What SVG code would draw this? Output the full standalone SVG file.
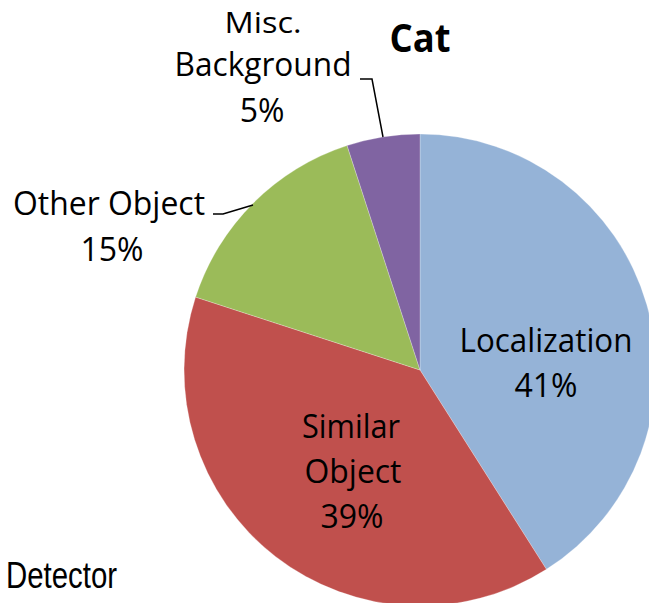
<svg xmlns="http://www.w3.org/2000/svg" width="649" height="603" viewBox="0 0 649 603">
<style>
.lbl{font-family:"Open Sans","Noto Sans",sans-serif;font-size:32px;fill:#000;text-anchor:middle}
.slice{stroke:#ffffff;stroke-width:0.5;stroke-opacity:0.5}
.lead{fill:none;stroke:#000;stroke-width:1.5}
</style>
<rect width="649" height="603" fill="#ffffff"/>
<g id="slice-localization"><path class="slice" fill="#95B3D7" d="M420,370 L420,134 A236,236 0 0 1 546.4,569.3 Z"/></g>
<g id="slice-similar"><path class="slice" fill="#C0504D" d="M420,370 L546.4,569.3 A236,236 0 0 1 195.6,297.1 Z"/></g>
<g id="slice-other"><path class="slice" fill="#9BBB59" d="M420,370 L195.6,297.1 A236,236 0 0 1 347.1,145.6 Z"/></g>
<g id="slice-misc"><path class="slice" fill="#8064A2" d="M420,370 L347.1,145.6 A236,236 0 0 1 420,134 Z"/></g>
<g id="connectors">
<polyline class="lead" points="360,79 372,79 383,137"/>
<polyline class="lead" points="213,214 223,214 253,205"/>
</g>
<g id="label-title"><text x="420" y="52" font-family="'Open Sans','Noto Sans',sans-serif" font-weight="bold" font-size="40" text-anchor="middle" textLength="61" lengthAdjust="spacingAndGlyphs">Cat</text></g>
<g id="label-misc">
<text class="lbl" x="263" y="33" font-size="30" style="font-size:30px" textLength="77" lengthAdjust="spacingAndGlyphs">Misc.</text>
<text class="lbl" x="263" y="76" textLength="177" lengthAdjust="spacingAndGlyphs">Background</text>
<text class="lbl" x="262" y="122">5%</text>
</g>
<g id="label-other">
<text class="lbl" x="109" y="215" textLength="192" lengthAdjust="spacingAndGlyphs">Other Object</text>
<text class="lbl" x="112" y="261">15%</text>
</g>
<g id="label-localization">
<text class="lbl" x="546" y="352" textLength="173" lengthAdjust="spacingAndGlyphs">Localization</text>
<text class="lbl" x="546" y="397">41%</text>
</g>
<g id="label-similar">
<text class="lbl" x="351" y="438" textLength="98" lengthAdjust="spacingAndGlyphs">Similar</text>
<text class="lbl" x="353" y="483" textLength="97" lengthAdjust="spacingAndGlyphs">Object</text>
<text class="lbl" x="352" y="528">39%</text>
</g>
<g id="label-detector"><text x="6" y="588" font-family="'Liberation Sans',Arial,sans-serif" font-size="37" textLength="111" lengthAdjust="spacingAndGlyphs">Detector</text></g>
</svg>
